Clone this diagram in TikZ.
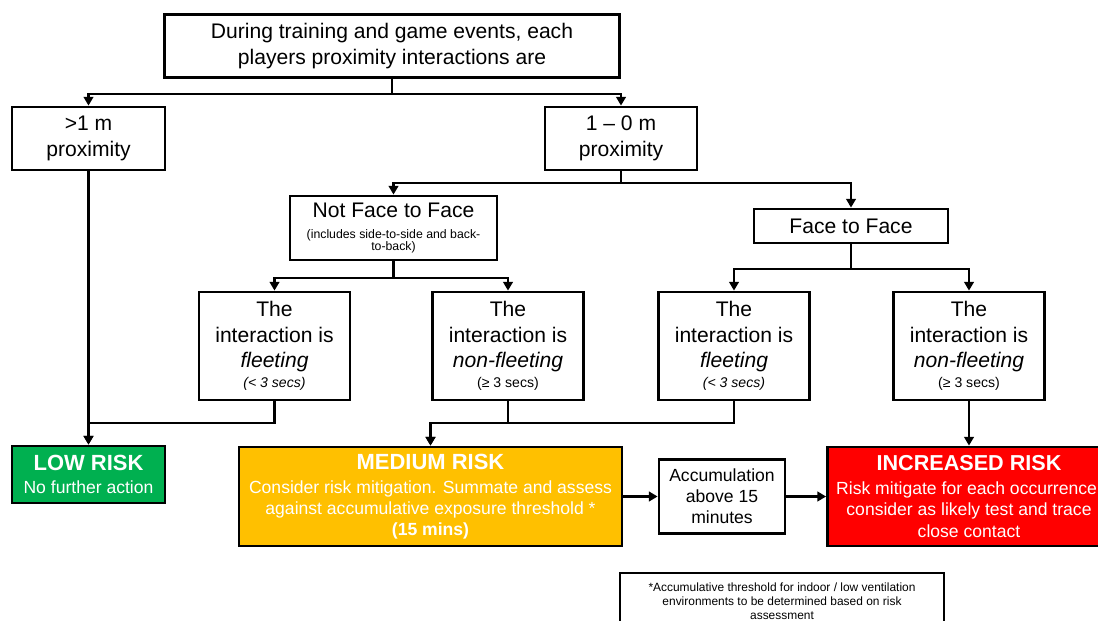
\documentclass[tikz,border=0pt]{standalone}
\usepackage{fontspec}
\setmainfont{Liberation Sans}
\usetikzlibrary{arrows.meta}

\definecolor{lowgreen}{HTML}{00B050}
\definecolor{medamber}{HTML}{FFC000}
\definecolor{incred}{HTML}{FF0000}

\tikzset{
    box/.style={draw, line width=1.6pt, align=center, inner sep=1pt,
        font=\fontsize{12}{14.5}\selectfont},
    riskbox/.style={box, text=white, font=\fontsize{10}{12}\selectfont},
    link/.style={line width=1.2pt},
    >={Triangle[length=5pt,width=5.5pt]}
}

\begin{document}
\begin{tikzpicture}[x=0.02cm, y=-0.02cm]
            \useasboundingbox (0,0) rectangle (1098,621);
            \clip (0,0) rectangle (1098,621);
            \node[box, minimum width=9.1cm, minimum height=1.26cm] (top) at (392,46)
                {During training and game events, each\\players proximity interactions are};
            \node[box, minimum width=3.06cm, minimum height=1.26cm] (far) at (88.5,138.5) {>1 m\\proximity};
            \node[box, minimum width=3.04cm, minimum height=1.26cm] (near) at (621,138.5) {1 – 0 m\\proximity};
            \node[box, minimum width=4.14cm, minimum height=1.28cm] (notface) at (393.5,228)
                {Not Face to Face\\[-2.5pt]{\fontsize{7}{8.5}\selectfont (includes side-to-side and back-}\\[-7.5pt]{\fontsize{7}{8.5}\selectfont to-back)}};
            \node[box, minimum width=3.88cm, minimum height=0.68cm] (face) at (851,226) {Face to Face};
            % interaction boxes
            \foreach \nm/\x/\kind/\secs in {flA/274.5/fleeting/{\itshape(< 3 secs)},
                                            nonA/508/non-fleeting/{(≥ 3 secs)},
                                            flB/734/fleeting/{\itshape(< 3 secs)},
                                            nonB/969/non-fleeting/{(≥ 3 secs)}} {
                \node[box, minimum width=3.02cm, minimum height=2.16cm] (\nm) at (\x,346)
                    {The\\interaction is\\\textit{\kind}\\[-3pt]{\fontsize{8}{9}\selectfont\secs}};
            }
            \node[riskbox, fill=lowgreen, minimum width=3.06cm, minimum height=1.14cm] (low) at (88.5,474.5)
                {{\fontsize{12.5}{14}\selectfont\bfseries LOW RISK}\\[1.5pt]No further action};
            \node[riskbox, fill=medamber, minimum width=7.66cm, minimum height=1.98cm] (med) at (430.5,496.5)
                {{\fontsize{12.5}{14}\selectfont\bfseries MEDIUM RISK}\\[1.7pt]Consider risk mitigation. Summate and assess\\against accumulative exposure threshold *\\\textbf{(15 mins)}};
            \node[box, font=\fontsize{10}{12}\selectfont, minimum width=2.52cm, minimum height=1.48cm] (accum) at (722,496.5)
                {Accumulation\\above 15\\minutes};
            \node[riskbox, fill=incred, minimum width=5.66cm, minimum height=1.98cm] (inc) at (969,496.5)
                {{\fontsize{12.3}{14}\selectfont\bfseries INCREASED RISK}\\[1.7pt]Risk mitigate for each occurrence,\\consider as likely test and trace\\close contact};
            \node[box, font=\fontsize{6.8}{8}\selectfont, minimum width=6.48cm, minimum height=1.14cm] (note) at (782,601.5)
                {*Accumulative threshold for indoor / low ventilation\\environments to be determined based on risk\\assessment};

            \draw[link, ->] (top.south) -- ++(0,15) -| (far.north);
            \draw[link, ->] (top.south) -- ++(0,15) -| (near.north);
            \draw[link, ->] (near.south) -- ++(0,12) -| (notface.north);
            \draw[link, ->] (near.south) -- ++(0,12) -| (face.north);
            \draw[link, ->] (notface.south) -- ++(0,17) -| (flA.north);
            \draw[link, ->] (notface.south) -- ++(0,17) -| (nonA.north);
            \draw[link, ->] (face.south) -- ++(0,25) -| (flB.north);
            \draw[link, ->] (face.south) -- ++(0,25) -| (nonB.north);
            \draw[link, ->] (far.south) -- (low.north);
            \draw[link, ->] (flA.south) -- ++(0,22) -| (low.north);
            \draw[link, ->] (nonA.south) -- ++(0,22) -| (med.north);
            \draw[link, ->] (flB.south) -- ++(0,22) -| (med.north);
            \draw[link, ->] (nonB.south) -- (inc.north);
            \draw[link, ->] (med.east) -- (accum.west);
            \draw[link, ->] (accum.east) -- (inc.west);
        \end{tikzpicture}
\end{document}
